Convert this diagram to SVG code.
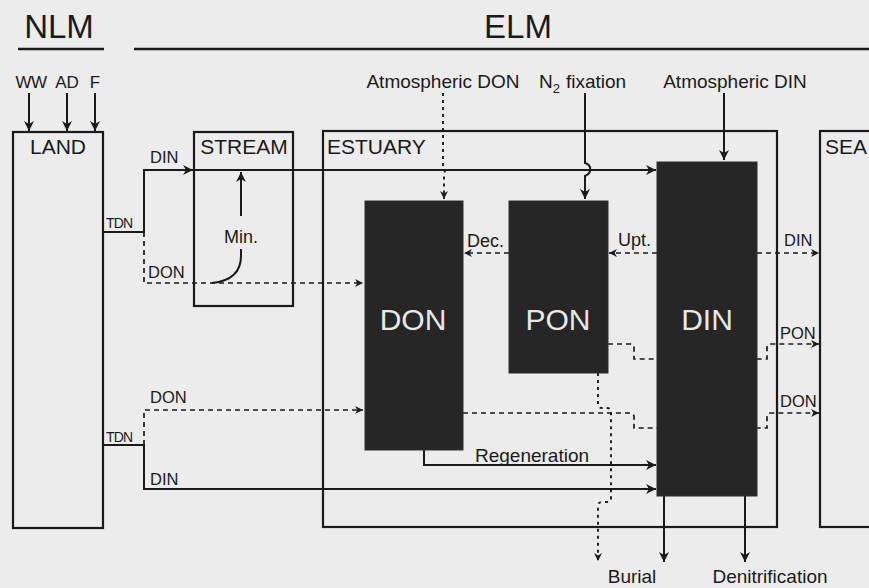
<svg xmlns="http://www.w3.org/2000/svg" width="869" height="588" viewBox="0 0 869 588">
<style>
text{font-family:"Liberation Sans",Arial,sans-serif;fill:#1a1a1a}
.box{fill:none;stroke:#1a1a1a;stroke-width:2.2}
.dark{fill:#262626;stroke:#2e2e2e;stroke-width:1}
.big{font-size:30px;fill:#e8e8e8;text-anchor:middle}
.blab{font-size:21px}
.lab{font-size:19px}
.sm{font-size:16.5px}
.tdn{font-size:14px;letter-spacing:-0.8px}
.ln{fill:none;stroke:#1a1a1a;stroke-width:2}
.ds{fill:none;stroke:#1a1a1a;stroke-width:1.7;stroke-dasharray:5 4}
.dt{fill:none;stroke:#1a1a1a;stroke-width:1.9;stroke-dasharray:3 4}
</style>
<defs>
<marker id="ah" viewBox="0 0 10 10" refX="10" refY="5" markerWidth="11" markerHeight="10" orient="auto" markerUnits="userSpaceOnUse"><path d="M0,0 L10,5 L0,10 L3,5 z" fill="#1a1a1a"/></marker>
<marker id="as" viewBox="0 0 10 10" refX="10" refY="5" markerWidth="9" markerHeight="8" orient="auto" markerUnits="userSpaceOnUse"><path d="M0,0 L10,5 L0,10 L3,5 z" fill="#1a1a1a"/></marker>
</defs>
<rect width="869" height="588" fill="#ececec"/>
<g id="titles">
<text x="59" y="38" font-size="33" text-anchor="middle">NLM</text>
<line x1="18" y1="49" x2="104" y2="49" stroke="#1a1a1a" stroke-width="2.5"/>
<text x="518" y="38" font-size="33" text-anchor="middle">ELM</text>
<line x1="134" y1="49" x2="869" y2="49" stroke="#1a1a1a" stroke-width="2.5"/>
</g>
<g id="land">
<rect class="box" x="13" y="132" width="90" height="396"/>
<text class="blab" x="58" y="154" text-anchor="middle">LAND</text>
</g>
<g id="stream">
<rect class="box" x="194" y="132" width="99" height="174"/>
<text class="blab" x="244" y="154" text-anchor="middle">STREAM</text>
</g>
<g id="estuary">
<rect class="box" x="323" y="131" width="454" height="396"/>
<text class="blab" x="327" y="154">ESTUARY</text>
</g>
<g id="sea">
<rect class="box" x="820" y="131" width="70" height="396"/>
<text class="blab" x="825" y="154">SEA</text>
</g>
<g id="connectors">
<text x="31" y="88" font-size="17" text-anchor="middle" letter-spacing="-0.5">WW</text>
<text x="67" y="88" font-size="17" text-anchor="middle">AD</text>
<text x="95" y="88" font-size="17" text-anchor="middle">F</text>
<path class="ln" d="M29,93 V131" marker-end="url(#ah)"/>
<path class="ln" d="M67,93 V131" marker-end="url(#ah)"/>
<path class="ln" d="M95,93 V131" marker-end="url(#ah)"/>
<path class="ln" d="M103,232 H144 V170 H193" marker-end="url(#ah)"/>
<path class="ln" d="M194,170 H656" marker-end="url(#ah)"/>
<path class="ds" d="M144,232 V283 H363" marker-end="url(#as)"/>
<text class="tdn" x="106" y="228">TDN</text>
<text class="sm" x="150" y="163">DIN</text>
<text class="sm" x="148" y="278">DON</text>
<path class="ln" d="M212,283 Q241,280 241,256 V249"/>
<path class="ln" d="M241,216 V172" marker-end="url(#ah)"/>
<text x="241" y="243" font-size="18" text-anchor="middle">Min.</text>
<path class="ln" d="M103,445 H144 V489 H656" marker-end="url(#ah)"/>
<path class="ds" d="M144,445 V410 H363" marker-end="url(#as)"/>
<text class="tdn" x="106" y="442">TDN</text>
<text class="sm" x="150" y="403">DON</text>
<text class="sm" x="150" y="485">DIN</text>
<text class="lab" x="443" y="88" text-anchor="middle">Atmospheric DON</text>
<path class="dt" d="M443,93 V166 Q446,170 444,176 V199" marker-end="url(#as)"/>
<text class="lab" x="539" y="88">N<tspan font-size="13" dy="5">2</tspan><tspan dy="-5" dx="6">fixation</tspan></text>
<path class="ln" d="M585,93 V163 C592,165 592,173 585,176 V199" marker-end="url(#ah)"/>
<text class="lab" x="735" y="88" text-anchor="middle">Atmospheric DIN</text>
<path class="ln" d="M724,93 V160" marker-end="url(#ah)"/>
<path class="ds" d="M509,253 H464" marker-end="url(#as)"/>
<text x="467" y="247" font-size="18">Dec.</text>
<path class="ds" d="M657,253 H609" marker-end="url(#as)"/>
<text x="618" y="246" font-size="18">Upt.</text>
<path class="ds" d="M757,253 H819" marker-end="url(#as)"/>
<text class="sm" x="784" y="246">DIN</text>
<path class="ds" d="M608,344 H630 Q634,344 634,348 V359 H767 V348 Q767,344 771,344 H819" marker-end="url(#as)"/>
<text class="sm" x="780" y="339">PON</text>
<path class="ds" d="M463,413 H630 Q634,413 634,417 V428 H767 V417 Q767,413 771,413 H819" marker-end="url(#as)"/>
<text class="sm" x="780" y="407">DON</text>
<path class="dt" d="M598,373 V404 Q598,408 602,408 H607 Q611,408 611,412 V498 Q611,502 607,502 H602 Q598,502 598,506 V561" marker-end="url(#as)"/>
<path class="ln" d="M424,450 V465 H656" marker-end="url(#ah)"/>
<text class="lab" x="532" y="462" text-anchor="middle">Regeneration</text>
<path class="ln" d="M664,496 V562" marker-end="url(#ah)"/>
<path class="ln" d="M745,496 V562" marker-end="url(#ah)"/>
<text class="lab" x="632" y="583" text-anchor="middle">Burial</text>
<text class="lab" x="770" y="583" text-anchor="middle">Denitrification</text>
</g>
<g id="don">
<rect class="dark" x="365" y="201" width="98" height="249"/>
<text class="big" x="413" y="330">DON</text>
</g>
<g id="pon">
<rect class="dark" x="509" y="201" width="99" height="172"/>
<text class="big" x="558" y="330">PON</text>
</g>
<g id="din">
<rect class="dark" x="657" y="162" width="100" height="334"/>
<text class="big" x="707" y="330">DIN</text>
</g>
</svg>
